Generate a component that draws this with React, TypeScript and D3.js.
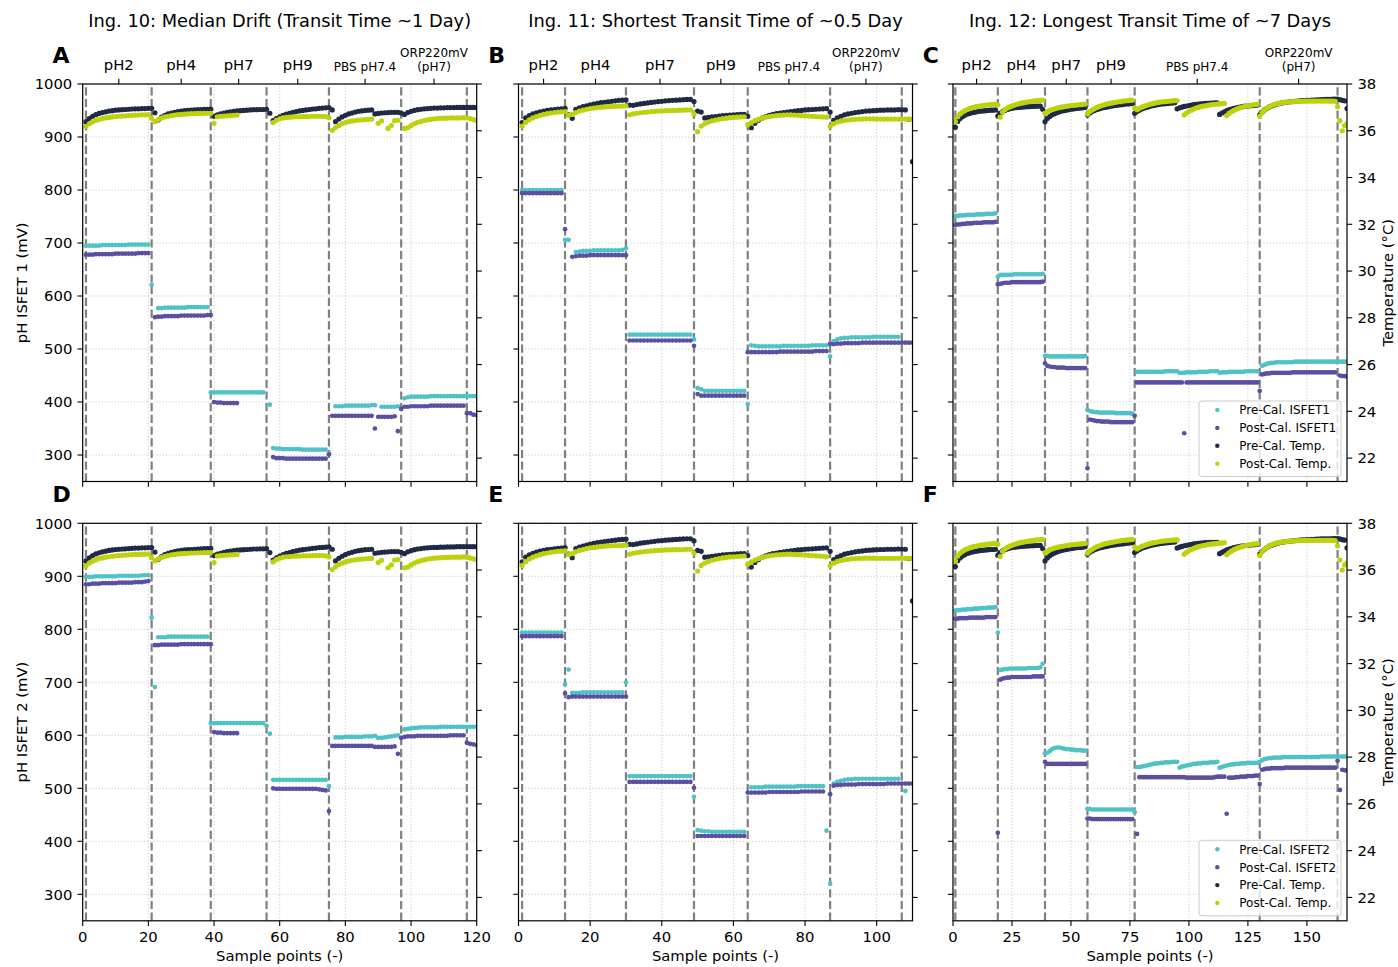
import React from 'react';
import * as d3 from 'd3';

type Seg = [number, number[]];

// ---------------- Axis / category definitions ----------------
const SOLUTIONS = ['pH2', 'pH4', 'pH7', 'pH9', 'PBS pH7.4', 'ORP220mV\n(pH7)'];
const BOUNDS_ING10 = [1, 21, 39, 56, 75, 97, 117];
const BOUNDS_ING11 = [1, 13, 30, 49, 64, 87, 107];
const BOUNDS_ING12 = [1, 19, 39, 57, 77, 130, 163];
const XTICKS_ING10 = [0, 20, 40, 60, 80, 100, 120];
const XTICKS_ING11 = [0, 20, 40, 60, 80, 100];
const XTICKS_ING12 = [0, 25, 50, 75, 100, 125, 150];
const MV_TICKS = [300, 400, 500, 600, 700, 800, 900, 1000];
const TEMP_TICKS = [22, 24, 26, 28, 30, 32, 34, 36, 38];
const TITLES = [
  'Ing. 10: Median Drift (Transit Time ~1 Day)',
  'Ing. 11: Shortest Transit Time of ~0.5 Day',
  'Ing. 12: Longest Transit Time of ~7 Days',
];
const LEGEND_1 = ['Pre-Cal. ISFET1', 'Post-Cal. ISFET1', 'Pre-Cal. Temp.', 'Post-Cal. Temp.'];
const LEGEND_2 = ['Pre-Cal. ISFET2', 'Post-Cal. ISFET2', 'Pre-Cal. Temp.', 'Post-Cal. Temp.'];

// ---------------- Temperatures (°C), shared by both rows ----------------
const T10_PRE: Seg[] = [
  [1, [36.39, 36.52, 36.62, 36.69, 36.74, 36.78, 36.81, 36.84, 36.86, 36.88, 36.89, 36.9, 36.91, 36.92, 36.93, 36.94, 36.94, 36.95, 36.95, 36.96, 36.96]],
  [22, [36.77]],
  [23, [36.46, 36.58, 36.66, 36.72, 36.76, 36.79, 36.82, 36.84, 36.86, 36.87, 36.88, 36.89, 36.9, 36.91, 36.92, 36.92, 36.93]],
  [40, [36.62, 36.68, 36.72, 36.76, 36.79, 36.81, 36.83, 36.85, 36.86, 36.87, 36.88, 36.89, 36.9, 36.9, 36.91, 36.91, 36.92]],
  [57, [36.75]],
  [58, [36.43, 36.52, 36.6, 36.66, 36.71, 36.75, 36.79, 36.82, 36.85, 36.87, 36.89, 36.91, 36.93, 36.94, 36.96, 36.97, 36.98, 36.99]],
  [76, [36.89]],
  [77, [36.39, 36.5, 36.59, 36.66, 36.72, 36.76, 36.8, 36.83, 36.85, 36.87, 36.88, 36.89]],
  [89, [36.72, 36.74, 36.76, 36.77, 36.78, 36.79, 36.79, 36.79]],
  [97, [36.76, 36.7, 36.78, 36.83, 36.87, 36.9, 36.92, 36.94, 36.95, 36.96, 36.97, 36.97, 36.98, 36.98, 36.99, 36.99, 36.99, 37.0, 37.0, 37.0, 37.0, 37.0, 37.0, 37.0]],
];
const T10_POST: Seg[] = [
  [1, [36.18, 36.3, 36.38, 36.44, 36.49, 36.52, 36.55, 36.57, 36.59, 36.61, 36.62, 36.63, 36.64, 36.65, 36.66, 36.67, 36.67, 36.68, 36.68, 36.69, 36.53]],
  [22, [36.39, 36.48, 36.54, 36.59, 36.62, 36.65, 36.67, 36.69, 36.7, 36.71, 36.72, 36.73, 36.73, 36.74, 36.74, 36.75, 36.75, 36.75]],
  [40, [36.32, 36.6, 36.62, 36.63, 36.64, 36.65, 36.66, 36.67]],
  [58, [36.35, 36.45, 36.51, 36.55, 36.57, 36.58, 36.59, 36.6, 36.6, 36.61, 36.61, 36.61, 36.62, 36.62, 36.62, 36.62, 36.61, 36.56]],
  [76, [36.02, 36.14, 36.23, 36.3, 36.35, 36.39, 36.42, 36.44, 36.46, 36.47, 36.48, 36.49, 36.5]],
  [90, [36.32, 36.42]],
  [93, [36.1, 36.22, 36.43, 36.45]],
  [98, [36.1, 36.13, 36.22, 36.3, 36.36, 36.4, 36.44, 36.47, 36.49, 36.51, 36.52, 36.53, 36.54, 36.54, 36.55, 36.55, 36.55, 36.55, 36.56, 36.55, 36.52, 36.48, 36.44]],
];
const T11_PRE: Seg[] = [
  [1, [36.35, 36.55, 36.65, 36.72, 36.77, 36.81, 36.84, 36.87, 36.89, 36.91, 36.93, 36.94, 36.96]],
  [14, [36.68, 36.53]],
  [16, [36.92, 36.98, 37.03, 37.07, 37.11, 37.14, 37.17, 37.2, 37.22, 37.24, 37.26, 37.28, 37.3, 37.31, 37.32]],
  [31, [37.1, 37.09, 37.12, 37.15, 37.17, 37.19, 37.21, 37.23, 37.25, 37.26, 37.28, 37.29, 37.3, 37.31, 37.32, 37.33, 37.34, 37.34]],
  [49, [37.25, 36.84, 36.8, 36.55, 36.57, 36.59, 36.61, 36.63, 36.65, 36.66, 36.67, 36.68, 36.69, 36.7, 36.7, 36.62]],
  [65, [36.13, 36.32, 36.45, 36.54, 36.61, 36.66, 36.7, 36.73, 36.76, 36.78, 36.8, 36.82, 36.84, 36.86, 36.87, 36.89, 36.9, 36.91, 36.92, 36.93, 36.94, 36.95]],
  [87, [36.8, 36.45, 36.55, 36.62, 36.68, 36.72, 36.75, 36.78, 36.8, 36.82, 36.84, 36.85, 36.86, 36.87, 36.88, 36.88, 36.89, 36.89, 36.89, 36.9, 36.9, 36.89, 36.49, 34.68]],
];
const T11_POST: Seg[] = [
  [1, [36.2, 36.36, 36.47, 36.55, 36.61, 36.66, 36.7, 36.73, 36.76, 36.78, 36.8, 36.81, 36.82]],
  [14, [36.66, 36.7, 36.78, 36.84, 36.88, 36.92, 36.95, 36.97, 36.99, 37.01, 37.02, 37.03, 37.04, 37.05, 37.05, 37.06, 37.06]],
  [31, [36.68, 36.72, 36.75, 36.77, 36.79, 36.8, 36.82, 36.83, 36.84, 36.85, 36.86, 36.86, 36.87, 36.87, 36.88, 36.88, 36.89, 36.89]],
  [49, [36.72, 35.96, 36.2, 36.3, 36.37, 36.42, 36.46, 36.49, 36.52, 36.54, 36.56, 36.57, 36.58, 36.59, 36.6]],
  [64, [36.25, 36.35, 36.43, 36.49, 36.54, 36.58, 36.61, 36.63, 36.65, 36.66, 36.67, 36.68, 36.68, 36.67, 36.66, 36.65, 36.64, 36.63, 36.62, 36.61, 36.6, 36.59, 36.58]],
  [87, [36.18, 36.3, 36.37, 36.41, 36.44, 36.46, 36.48, 36.49, 36.5, 36.5, 36.51, 36.51, 36.51, 36.5, 36.5, 36.5, 36.5, 36.5, 36.5, 36.5, 36.5, 36.5, 36.5, 36.5]],
];
const T12_PRE: Seg[] = [
  [1, [36.15, 36.4, 36.52, 36.6, 36.66, 36.71, 36.74, 36.77, 36.79, 36.81, 36.83, 36.84, 36.85, 36.86, 36.87, 36.88, 36.88, 36.89]],
  [19, [36.63]],
  [20, [36.75, 36.82, 36.87, 36.91, 36.94, 36.96, 36.98, 36.99, 37.0, 37.01, 37.02, 37.03, 37.03, 37.04, 37.04, 37.05, 37.05, 37.06, 36.92]],
  [39, [36.39, 36.52, 36.61, 36.68, 36.73, 36.77, 36.81, 36.84, 36.86, 36.88, 36.9, 36.92, 36.93, 36.95, 36.96, 36.97, 36.98, 37.0]],
  [57, [36.68, 36.76, 36.82, 36.87, 36.91, 36.94, 36.97, 36.99, 37.01, 37.03, 37.05, 37.07, 37.08, 37.1, 37.11, 37.12, 37.14, 37.15, 37.16, 37.17]],
  [77, [36.75, 36.82, 36.88, 36.93, 36.97, 37.0, 37.03, 37.06, 37.08, 37.1, 37.12, 37.14, 37.15, 37.16, 37.17, 37.18, 37.19, 37.2]],
  [95, [36.94, 36.98, 37.01, 37.04, 37.06, 37.08, 37.1, 37.12, 37.13, 37.14, 37.15, 37.16, 37.17, 37.17, 37.18, 37.18, 37.19, 37.19]],
  [113, [36.7, 36.76, 36.81, 36.86, 36.9, 36.93, 36.96, 36.98, 37.0, 37.02, 37.04, 37.05, 37.06, 37.07, 37.08, 37.09, 37.1]],
  [130, [36.68, 36.8, 36.89, 36.96, 37.02, 37.06, 37.1, 37.13, 37.16, 37.18, 37.2, 37.22, 37.23, 37.24, 37.25, 37.26, 37.27, 37.28, 37.29, 37.29, 37.3, 37.3, 37.31, 37.31, 37.32, 37.32, 37.33, 37.33, 37.34, 37.34, 37.34, 37.35, 37.35, 37.35, 37.33, 37.3, 37.28, 36.95]],
];
const T12_POST: Seg[] = [
  [1, [36.39, 36.6, 36.72, 36.8, 36.86, 36.91, 36.95, 36.98, 37.01, 37.03, 37.05, 37.07, 37.08, 37.1, 37.11, 37.12, 37.13, 37.14, 37.1]],
  [20, [36.58, 36.8, 36.9, 36.97, 37.02, 37.06, 37.1, 37.13, 37.16, 37.18, 37.2, 37.22, 37.24, 37.25, 37.27, 37.28, 37.29, 37.3, 37.31]],
  [39, [36.75, 36.82, 36.87, 36.91, 36.94, 36.97, 36.99, 37.01, 37.03, 37.05, 37.06, 37.08, 37.09, 37.1, 37.11, 37.12, 37.13, 37.14]],
  [57, [36.72, 36.82, 36.89, 36.95, 37.0, 37.04, 37.08, 37.11, 37.14, 37.16, 37.18, 37.2, 37.22, 37.24, 37.25, 37.27, 37.28, 37.29, 37.3, 37.31]],
  [77, [36.98, 36.9, 36.96, 37.01, 37.05, 37.09, 37.12, 37.15, 37.17, 37.19, 37.21, 37.23, 37.24, 37.25, 37.26, 37.27, 37.28, 37.29, 37.29]],
  [98, [36.68, 36.76, 36.83, 36.88, 36.93, 36.97, 37.0, 37.03, 37.05, 37.07, 37.09, 37.11, 37.12, 37.13, 37.14, 37.15, 37.16, 37.17]],
  [116, [36.65, 36.74, 36.81, 36.87, 36.92, 36.96, 36.99, 37.02, 37.05, 37.07, 37.09, 37.11, 37.12, 37.13]],
  [130, [36.62, 36.78, 36.89, 36.97, 37.03, 37.08, 37.12, 37.15, 37.17, 37.19, 37.21, 37.22, 37.23, 37.24, 37.25, 37.25, 37.26, 37.26, 37.26, 37.27, 37.27, 37.27, 37.27, 37.27, 37.27, 37.27, 37.27, 37.27, 37.27, 37.27, 37.27, 37.27, 37.26, 37.03, 36.43, 36.0, 36.22, 36.3]],
];

// ---------------- ISFET readings (mV) ----------------
const A_PRE: Seg[] = [
  [1, [695, 695, 695, 695, 695, 696, 696, 696, 696, 696, 696, 696, 696, 697, 697, 697, 697, 697, 697, 697]],
  [21, [621]],
  [23, [577, 577, 578, 578, 578, 578, 578, 578, 578, 579, 579, 579, 579, 579, 579, 579]],
  [39, [418, 418, 418, 418, 418, 418, 418, 418, 418, 418, 418, 418, 418, 418, 418, 418, 418]],
  [57, [395]],
  [58, [313, 312, 312, 311, 311, 311, 311, 311, 311, 310, 310, 310, 310, 310, 310, 310, 310]],
  [75, [303]],
  [77, [392, 392, 392, 393, 393, 393, 393, 393, 393, 393, 393, 394, 394]],
  [91, [391, 391, 391, 391, 391, 392]],
  [98, [407, 409, 410, 410, 410, 410, 410, 410, 411, 411, 411, 411, 411, 411, 411, 411, 411, 411, 411, 411, 411, 411, 411]],
];
const A_POST: Seg[] = [
  [1, [678, 678, 678, 679, 679, 679, 679, 679, 679, 680, 680, 680, 680, 680, 680, 680, 681, 681, 681, 681]],
  [22, [560, 561, 561, 562, 562, 562, 562, 562, 563, 563, 563, 563, 563, 563, 563, 563, 564, 564]],
  [40, [400, 399, 399, 398, 398, 398, 398, 398]],
  [58, [296, 294, 294, 294, 293, 293, 293, 293, 293, 293, 293, 293, 293, 293, 293, 293, 293]],
  [75, [301]],
  [76, [374, 374, 374, 374, 374, 374, 374, 374, 374, 374, 374, 374, 374]],
  [89, [350]],
  [90, [372, 372, 372, 372, 372, 373]],
  [96, [345]],
  [97, [387, 391, 391, 392, 392, 392, 392, 392, 392, 393, 393, 393, 393, 393, 393, 393, 393, 393, 393, 393]],
  [117, [379, 379, 376, 375]],
];
const D_PRE: Seg[] = [
  [1, [899, 899, 899, 900, 900, 900, 900, 900, 900, 900, 901, 901, 901, 901, 901, 901, 901, 902, 902, 902]],
  [21, [822, 691]],
  [23, [785, 785, 785, 786, 786, 786, 786, 786, 786, 786, 786, 786, 786, 786, 786, 786]],
  [39, [623, 623, 623, 623, 623, 623, 623, 623, 623, 623, 623, 623, 623, 623, 623, 623, 623]],
  [56, [618, 603]],
  [58, [516, 516, 516, 516, 516, 516, 516, 516, 516, 516, 516, 516, 516, 516, 516, 516, 516]],
  [75, [504]],
  [77, [596, 596, 596, 597, 597, 597, 597, 597, 597, 598, 598, 598, 599]],
  [90, [595, 595, 596, 597, 598, 599, 600]],
  [98, [611, 612, 613, 614, 614, 615, 615, 615, 615, 615, 615, 616, 616, 616, 616, 616, 616, 616, 616, 616, 616, 616, 616]],
];
const D_POST: Seg[] = [
  [1, [885, 885, 886, 886, 886, 887, 887, 887, 887, 887, 888, 888, 888, 888, 888, 889, 889, 889, 890, 891]],
  [22, [770, 770, 771, 771, 771, 771, 771, 771, 772, 772, 772, 772, 772, 772, 772, 772, 772, 772]],
  [40, [606, 605, 605, 604, 604, 604, 604, 604]],
  [58, [500, 499, 499, 499, 499, 499, 499, 499, 499, 499, 499, 499, 499, 499, 498, 497]],
  [74, [496, 457]],
  [76, [580, 580, 580, 580, 580, 580, 580, 580, 580, 580, 580, 580, 580]],
  [89, [578, 578, 578, 578, 578, 578, 579]],
  [96, [565]],
  [97, [595, 597, 598, 598, 598, 599, 599, 599, 599, 599, 599, 599, 599, 599, 599, 600, 600, 600, 600, 600]],
  [117, [586, 584, 583, 581]],
];
const B_PRE: Seg[] = [
  [1, [800, 800, 800, 800, 800, 800, 800, 800, 800, 800, 800, 800]],
  [13, [706, 706]],
  [16, [683, 684, 685, 685, 685, 686, 686, 686, 686, 686, 686, 686, 686, 687, 690]],
  [31, [527, 527, 527, 527, 527, 527, 527, 527, 527, 527, 527, 527, 527, 527, 527, 527, 527, 527]],
  [49, [518]],
  [50, [426, 424, 421, 421, 421, 421, 421, 421, 421, 421, 421, 421, 421, 421]],
  [64, [396]],
  [65, [507, 506, 505, 505, 505, 505, 505, 505, 505, 506, 506, 506, 506, 506, 506, 506, 506, 507, 507, 507, 507, 507]],
  [87, [486]],
  [88, [515, 518, 520, 521, 521, 522, 522, 522, 522, 522, 522, 523, 523, 523, 523, 523, 523, 523, 523]],
];
const B_POST: Seg[] = [
  [1, [794, 794, 794, 794, 794, 794, 794, 794, 794, 794, 794, 794]],
  [13, [726]],
  [15, [674, 675, 676, 676, 676, 677, 677, 677, 677, 677, 677, 677, 677, 677, 677, 677]],
  [31, [516, 516, 516, 516, 516, 516, 516, 516, 516, 516, 516, 516, 516, 516, 516, 516, 516, 516]],
  [49, [506]],
  [50, [415, 412, 412, 412, 412, 412, 412, 412, 412, 412, 412, 412, 412, 412]],
  [64, [494, 494, 494, 494, 494, 494, 494, 494, 494, 495, 495, 495, 495, 495, 495, 495, 495, 495, 495, 496, 496, 496, 496]],
  [87, [510]],
  [88, [509, 510, 510, 511, 511, 511, 511, 511, 512, 512, 512, 512, 512, 512, 512, 512, 512, 512, 512, 512, 512, 512, 512]],
];
const E_PRE: Seg[] = [
  [1, [794, 794, 794, 794, 794, 794, 794, 794, 794, 794, 794, 794]],
  [13, [696, 724]],
  [15, [680, 680, 680, 681, 681, 681, 681, 681, 681, 681, 681, 681, 681, 681, 681]],
  [30, [700]],
  [31, [523, 523, 523, 523, 523, 523, 523, 523, 523, 523, 523, 523, 523, 523, 523, 523, 523, 523]],
  [49, [484]],
  [50, [421, 420, 419, 419, 418, 418, 418, 418, 418, 418, 418, 418, 418, 418]],
  [65, [502, 502, 502, 502, 503, 503, 503, 503, 503, 503, 503, 503, 503, 504, 504, 504, 504, 504, 504, 504, 504]],
  [86, [420, 320]],
  [88, [509, 512, 514, 516, 517, 517, 518, 518, 518, 518, 518, 518, 518, 518, 518, 518, 518, 518, 518]],
  [108, [495]],
];
const E_POST: Seg[] = [
  [1, [787, 787, 787, 787, 787, 787, 787, 787, 787, 787, 787, 787]],
  [13, [679]],
  [14, [672, 673, 673, 673, 673, 673, 673, 673, 673, 673, 673, 673, 673, 673, 673, 673, 673]],
  [31, [512, 512, 512, 512, 512, 512, 512, 512, 512, 512, 512, 512, 512, 512, 512, 512, 512, 512]],
  [49, [501]],
  [50, [410, 410, 410, 410, 410, 410, 410, 410, 410, 410, 410, 410, 410, 410]],
  [64, [492, 492, 492, 492, 492, 492, 493, 493, 493, 493, 493, 493, 493, 493, 493, 494, 494, 494, 494, 494, 494, 494]],
  [87, [489]],
  [88, [505, 506, 506, 507, 507, 507, 507, 508, 508, 508, 508, 508, 508, 508, 508, 509, 509, 509, 509, 509, 509, 509, 509]],
];
const C_PRE: Seg[] = [
  [1, [751, 751, 752, 752, 752, 753, 753, 753, 753, 754, 754, 754, 754, 755, 755, 755, 755, 756]],
  [19, [636]],
  [20, [640, 640, 640, 640, 640, 640, 641, 641, 641, 641, 641, 641, 641, 641, 641, 641, 641, 641, 642]],
  [39, [487, 487, 486, 486, 486, 486, 486, 486, 486, 486, 486, 486, 486, 486, 486, 486, 486, 487]],
  [57, [385, 383, 382, 381, 381, 380, 380, 380, 380, 380, 380, 380, 379, 379, 379, 379, 379, 379, 379, 378]],
  [78, [457, 457, 457, 457, 457, 457, 457, 457, 457, 457, 457, 457, 458, 458, 458, 458, 458, 458]],
  [96, [455, 455, 455, 456, 456, 456, 456, 456, 457, 457, 457, 457, 457, 458, 458, 458, 458]],
  [113, [455, 456, 456, 456, 457, 457, 457, 457, 457, 457, 457, 458, 458, 458, 458, 458, 458]],
  [131, [468, 470, 472, 473, 474, 474, 475, 475, 475, 475, 475, 475, 475, 475, 476, 476, 476, 476, 476, 476, 476, 476, 476, 476, 476, 476, 476, 476, 476, 476, 476, 476, 476, 476, 476, 476, 476]],
];
const C_POST: Seg[] = [
  [1, [734, 735, 735, 736, 736, 737, 737, 737, 738, 738, 738, 738, 739, 739, 739, 739, 739, 740]],
  [19, [622, 623, 624, 625, 625, 625, 626, 626, 626, 626, 626, 626, 626, 626, 626, 626, 626, 626, 626, 627]],
  [39, [473]],
  [40, [468, 467, 466, 466, 465, 465, 465, 465, 464, 464, 464, 464, 464, 464, 464, 464, 464]],
  [57, [275]],
  [58, [367, 366, 365, 364, 364, 363, 363, 363, 363, 362, 362, 362, 362, 362, 362, 362, 362, 362, 362]],
  [77, [374]],
  [78, [437, 437, 437, 437, 437, 437, 437, 437, 437, 437, 437, 437, 437, 437, 437, 437, 437, 437, 437, 437]],
  [98, [341]],
  [99, [437, 437, 437, 437, 437, 437, 437, 437, 437, 437, 437, 437, 437, 437, 437, 437, 437, 437, 437, 437, 437, 437, 437, 437, 437, 437, 437, 437, 437, 437, 437]],
  [130, [421]],
  [131, [452, 453, 454, 454, 455, 455, 455, 455, 455, 455, 455, 455, 455, 456, 456, 456, 456, 456, 456, 456, 456, 456, 456, 456, 456, 456, 456, 456, 456, 456, 456, 456]],
  [164, [450, 449, 449, 448]],
];
const F_PRE: Seg[] = [
  [1, [835, 836, 836, 837, 837, 838, 838, 838, 839, 839, 839, 840, 840, 840, 841, 841, 841, 842]],
  [19, [794]],
  [20, [723, 724, 725, 725, 726, 726, 726, 726, 726, 726, 726, 726, 727, 727, 727, 727, 727, 728, 735]],
  [39, [566, 567, 570, 574, 576, 577, 577, 576, 575, 574, 574, 573, 573, 572, 572, 572, 571, 571]],
  [57, [461, 461, 460, 460, 460, 460, 460, 460, 460, 460, 460, 460, 460, 460, 460, 460, 460, 460, 460, 460]],
  [77, [455]],
  [78, [540, 540, 541, 542, 543, 544, 545, 546, 547, 547, 548, 548, 549, 549, 549, 550, 550, 550]],
  [96, [539, 541, 542, 543, 544, 545, 546, 546, 547, 547, 548, 548, 548, 549, 549, 549, 550]],
  [113, [539, 540, 542, 543, 544, 545, 545, 546, 546, 547, 547, 547, 548, 548, 548, 548, 548]],
  [130, [550]],
  [131, [553, 555, 556, 557, 557, 558, 558, 558, 558, 559, 559, 559, 559, 559, 559, 559, 559, 559, 559, 559, 559, 559, 559, 559, 559, 560, 560, 560, 560, 560, 560, 560, 560, 560, 560, 560, 560]],
];
const F_POST: Seg[] = [
  [1, [820, 820, 821, 821, 821, 821, 822, 822, 822, 822, 822, 822, 822, 823, 823, 823, 823, 823]],
  [19, [416]],
  [20, [705, 707, 708, 709, 709, 710, 710, 710, 710, 710, 710, 710, 710, 710, 711, 711, 711, 711, 711]],
  [39, [550]],
  [40, [546, 546, 546, 546, 546, 546, 546, 546, 546, 546, 546, 546, 546, 546, 546, 546, 546]],
  [57, [443, 443, 442, 442, 442, 442, 442, 442, 442, 442, 442, 442, 442, 442, 442, 442, 442, 442, 442, 442]],
  [78, [414]],
  [79, [521, 521, 521, 521, 521, 521, 521, 521, 521, 521, 521, 521, 521, 521, 521, 521, 521, 521, 521, 521]],
  [99, [520, 520, 520, 520, 520, 520, 520, 520, 520, 520, 520, 520]],
  [111, [521, 522, 522, 522, 522]],
  [116, [452]],
  [117, [520, 520, 520, 521, 521, 522, 522, 522, 523, 523, 523, 524, 524]],
  [130, [508]],
  [131, [535, 536, 537, 537, 538, 538, 538, 538, 538, 538, 539, 539, 539, 539, 539, 539, 539, 539, 539, 539, 539, 539, 539, 539, 539, 539, 539, 539, 539, 539, 539, 539]],
  [163, [552, 497, 535, 534, 534]],
];

// ---------------- Layout ----------------
const W = 1398;
const H = 967;
const COL_X = [82.7, 518.5, 953];
const PW = 394;
const ROW_Y = [84, 523.3];
const PH = 397.5;
const FONT = "'DejaVu Sans', sans-serif";
const C_PRE_ISFET = '#4fc2c6';
const C_POST_ISFET = '#5a4fa1';
const C_PRE_T = '#1f2a44';
const C_POST_T = '#bdd20c';
const TICK = 5.2;
const PAD = 5.2;

function flatten(segs: Seg[]): [number, number][] {
  const out: [number, number][] = [];
  for (const [x0, vals] of segs) vals.forEach((v, i) => out.push([x0 + i, v]));
  return out;
}

type PanelCfg = {
  col: number; row: number; letter: string; xMax: number; xTicks: number[]; bounds: number[];
  pre: Seg[]; post: Seg[]; tPre: Seg[]; tPost: Seg[]; ylabel: string; legend?: string[];
};

const PANELS: PanelCfg[] = [
  { col: 0, row: 0, letter: 'A', xMax: 120, xTicks: XTICKS_ING10, bounds: BOUNDS_ING10, pre: A_PRE, post: A_POST, tPre: T10_PRE, tPost: T10_POST, ylabel: 'pH ISFET 1 (mV)' },
  { col: 1, row: 0, letter: 'B', xMax: 110, xTicks: XTICKS_ING11, bounds: BOUNDS_ING11, pre: B_PRE, post: B_POST, tPre: T11_PRE, tPost: T11_POST, ylabel: '' },
  { col: 2, row: 0, letter: 'C', xMax: 167, xTicks: XTICKS_ING12, bounds: BOUNDS_ING12, pre: C_PRE, post: C_POST, tPre: T12_PRE, tPost: T12_POST, ylabel: '', legend: LEGEND_1 },
  { col: 0, row: 1, letter: 'D', xMax: 120, xTicks: XTICKS_ING10, bounds: BOUNDS_ING10, pre: D_PRE, post: D_POST, tPre: T10_PRE, tPost: T10_POST, ylabel: 'pH ISFET 2 (mV)' },
  { col: 1, row: 1, letter: 'E', xMax: 110, xTicks: XTICKS_ING11, bounds: BOUNDS_ING11, pre: E_PRE, post: E_POST, tPre: T11_PRE, tPost: T11_POST, ylabel: '' },
  { col: 2, row: 1, letter: 'F', xMax: 167, xTicks: XTICKS_ING12, bounds: BOUNDS_ING12, pre: F_PRE, post: F_POST, tPre: T12_PRE, tPost: T12_POST, ylabel: '', legend: LEGEND_2 },
];

function Panel({ cfg, idx }: { cfg: PanelCfg; idx: number }) {
  const x0 = COL_X[cfg.col];
  const y0 = ROW_Y[cfg.row];
  const x = d3.scaleLinear().domain([0, cfg.xMax]).range([x0, x0 + PW]);
  const y = d3.scaleLinear().domain([250, 1000]).range([y0 + PH, y0]);
  const yT = d3.scaleLinear().domain([21, 38]).range([y0 + PH, y0]);
  const clipId = `clip${idx}`;
  const pre = flatten(cfg.pre);
  const post = flatten(cfg.post);
  const tPre = flatten(cfg.tPre);
  const tPost = flatten(cfg.tPost);
  const mids = cfg.bounds.slice(0, -1).map((b, i) => (b + cfg.bounds[i + 1]) / 2);
  const bottom = y0 + PH;
  const right = x0 + PW;

  return (
    <g>
      <defs>
        <clipPath id={clipId}>
          <rect x={x0} y={y0} width={PW} height={PH} />
        </clipPath>
      </defs>
      {/* grid */}
      <g stroke="#b0b0b0" strokeWidth={0.8} strokeDasharray="1.2,2" opacity={0.8}>
        {cfg.xTicks.map((t) => (
          <line key={'gx' + t} x1={x(t)} x2={x(t)} y1={y0} y2={bottom} />
        ))}
        {MV_TICKS.map((t) => (
          <line key={'gy' + t} x1={x0} x2={right} y1={y(t)} y2={y(t)} />
        ))}
      </g>
      <g clipPath={`url(#${clipId})`}>
        {cfg.bounds.map((b) => (
          <line key={'b' + b} x1={x(b)} x2={x(b)} y1={bottom} y2={y0} stroke="#7f7f7f" strokeWidth={2.2} strokeDasharray="8.2,3.5" />
        ))}
        {pre.map(([px, v], i) => (
          <circle key={'p' + i} cx={x(px)} cy={y(v)} r={2.35} fill={C_PRE_ISFET} />
        ))}
        {post.map(([px, v], i) => (
          <circle key={'q' + i} cx={x(px)} cy={y(v)} r={2.35} fill={C_POST_ISFET} />
        ))}
        {tPre.map(([px, v], i) => (
          <circle key={'t' + i} cx={x(px)} cy={yT(v)} r={2.6} fill={C_PRE_T} />
        ))}
        {tPost.map(([px, v], i) => (
          <circle key={'u' + i} cx={x(px)} cy={yT(v)} r={2.6} fill={C_POST_T} />
        ))}
      </g>
      {/* spines */}
      <rect x={x0} y={y0} width={PW} height={PH} fill="none" stroke="#000" strokeWidth={1.2} />
      {/* left ticks */}
      {MV_TICKS.map((t) => (
        <g key={'lt' + t}>
          <line x1={x0 - TICK} x2={x0} y1={y(t)} y2={y(t)} stroke="#000" strokeWidth={1.1} />
          {cfg.col === 0 && (
            <text x={x0 - TICK - PAD} y={y(t)} dy="0.36em" textAnchor="end" fontSize={14.8} fontFamily={FONT}>
              {t}
            </text>
          )}
        </g>
      ))}
      {/* right ticks */}
      {TEMP_TICKS.map((t) => (
        <g key={'rt' + t}>
          <line x1={right} x2={right + TICK} y1={yT(t)} y2={yT(t)} stroke="#000" strokeWidth={1.1} />
          {cfg.col === 2 && (
            <text x={right + TICK + PAD} y={yT(t)} dy="0.36em" textAnchor="start" fontSize={14.8} fontFamily={FONT}>
              {t}
            </text>
          )}
        </g>
      ))}
      {/* bottom ticks */}
      {cfg.xTicks.map((t) => (
        <g key={'bt' + t}>
          <line x1={x(t)} x2={x(t)} y1={bottom} y2={bottom + TICK} stroke="#000" strokeWidth={1.1} />
          {cfg.row === 1 && (
            <text x={x(t)} y={bottom + TICK + PAD + 10.8} textAnchor="middle" fontSize={14.8} fontFamily={FONT}>
              {t}
            </text>
          )}
        </g>
      ))}
      {cfg.row === 1 && (
        <text x={(x0 + right) / 2} y={961} textAnchor="middle" fontSize={14.8} fontFamily={FONT}>
          Sample points (-)
        </text>
      )}
      {/* top solution labels */}
      {cfg.row === 0 &&
        mids.map((m, i) => {
          const lines = SOLUTIONS[i].split('\n');
          const small = !SOLUTIONS[i].startsWith('pH');
          const fs = small ? 12 : 14.8;
          const base = y0 - TICK - PAD - (small ? 2.8 : 3.5);
          return (
            <g key={'top' + i}>
              <line x1={x(m)} x2={x(m)} y1={y0 - TICK} y2={y0} stroke="#000" strokeWidth={1.1} />
              {lines.map((ln, j) => (
                <text key={j} x={x(m)} y={base - (lines.length - 1 - j) * 14} textAnchor="middle" fontSize={fs} fontFamily={FONT}>
                  {ln}
                </text>
              ))}
            </g>
          );
        })}
      {cfg.row === 0 && (
        <text x={(x0 + right) / 2} y={27.3} textAnchor="middle" fontSize={17.8} fontFamily={FONT}>
          {TITLES[cfg.col]}
        </text>
      )}
      {/* panel letter */}
      <text x={x0 - 30.2} y={y0 - 21} fontSize={22} fontWeight="bold" fontFamily={FONT}>
        {cfg.letter}
      </text>
      {cfg.ylabel && (
        <text transform={`translate(26.5,${(y0 + bottom) / 2}) rotate(-90)`} textAnchor="middle" fontSize={14.8} fontFamily={FONT}>
          {cfg.ylabel}
        </text>
      )}
      {cfg.col === 2 && (
        <text transform={`translate(1393,${(y0 + bottom) / 2}) rotate(-90)`} textAnchor="middle" fontSize={14.8} fontFamily={FONT}>
          Temperature (°C)
        </text>
      )}
      {cfg.legend && (
        <g>
          <rect x={1199} y={bottom - 80.5} width={142} height={75.5} rx={3} fill="#fff" fillOpacity={0.8} stroke="#cccccc" strokeWidth={1} />
          {cfg.legend.map((lab, i) => {
            const ly = bottom - 71.5 + i * 17.9;
            const col = [C_PRE_ISFET, C_POST_ISFET, C_PRE_T, C_POST_T][i];
            return (
              <g key={lab}>
                <circle cx={1217.3} cy={ly} r={2.2} fill={col} />
                <text x={1239.3} y={ly} dy="0.36em" fontSize={12} fontFamily={FONT}>
                  {lab}
                </text>
              </g>
            );
          })}
        </g>
      )}
    </g>
  );
}

export default function App() {
  return (
    <svg width={W} height={H} style={{ position: 'absolute', left: 0, top: 0, background: '#fff' }}>
      <rect x={0} y={0} width={W} height={H} fill="#fff" />
      {PANELS.map((p, i) => (
        <Panel key={i} cfg={p} idx={i} />
      ))}
    </svg>
  );
}
